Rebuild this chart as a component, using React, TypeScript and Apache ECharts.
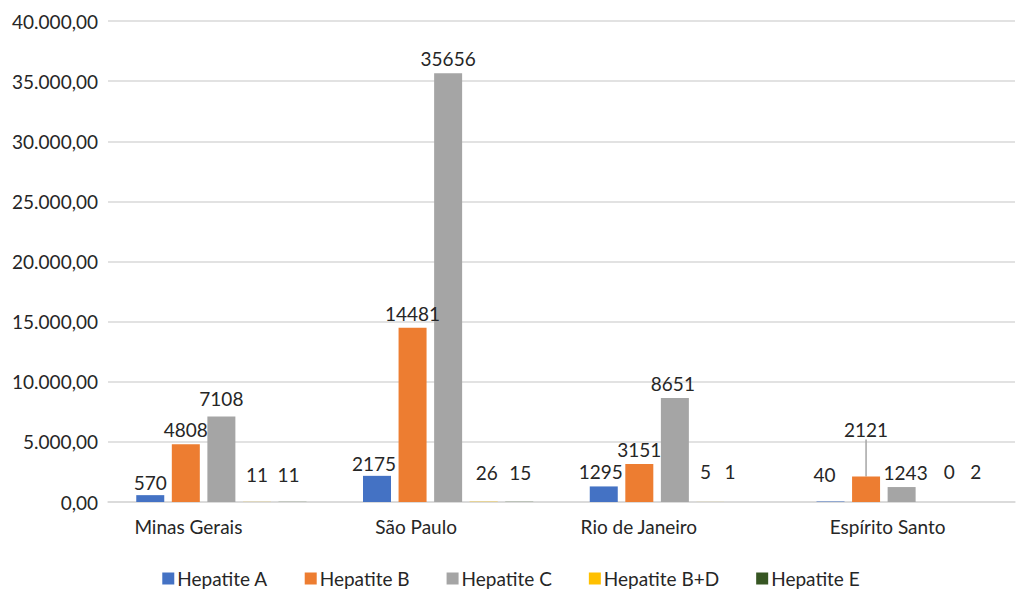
import React, { useEffect, useRef } from "react";
import * as echarts from "echarts";

const categories = ["Minas Gerais", "São Paulo", "Rio de Janeiro", "Espírito Santo"];
const seriesNames = ["Hepatite A", "Hepatite B", "Hepatite C", "Hepatite B+D", "Hepatite E"];
const hepA = [570, 2175, 1295, 40];
const hepB = [4808, 14481, 3151, 2121];
const hepC = [7108, 35656, 8651, 1243];
const hepBD = [11, 26, 5, 0];
const hepE = [11, 15, 1, 2];
const yTicks = { min: 0, max: 40000, interval: 5000 };

const colors = ["#4472C4", "#ED7D31", "#A5A5A5", "#FFC000", "#375623"];

// label nudges (styling only), [dx, dy] per series per category
const nudges: number[][][] = [
  [[0, 2], [-3, 2], [-3, 0], [-6, -13]],
  [[-3, 0], [-10, -6], [-2, 0], [0, 0]],
  [[0, -4], [0, 0], [-2, 0], [4, 0]],
  [[0, -13], [3, -15], [-5, -16], [12, -16]],
  [[-4, -13], [1, -15], [-16, -16], [3, -16]],
];

const axisLabelPad = [66, 64, 72, 28];

const fmtY = (v: number) =>
  String(v).replace(/\B(?=(\d{3})+(?!\d))/g, ".") + ",00";

export default function App() {
  const ref = useRef<HTMLDivElement>(null);
  useEffect(() => {
    if (!ref.current) return;
    const chart = echarts.init(ref.current, null, { renderer: "svg" });
    const all = [hepA, hepB, hepC, hepBD, hepE];
    const font = "Lato, 'Open Sans', sans-serif";
    const fs = 19;
    const rich: Record<string, any> = {};
    axisLabelPad.forEach((p, i) => {
      rich["c" + i] = { padding: [0, p, 0, 0], fontSize: fs, fontFamily: font, color: "#262626" };
    });
    chart.setOption({
      animation: false,
      color: colors,
      textStyle: { fontFamily: font },
      grid: { left: 108, right: 7, top: 21, bottom: 91, containLabel: false },
      legend: {
        data: seriesNames,
        left: "center",
        top: 564,
        icon: "rect",
        itemWidth: 12,
        itemHeight: 12,
        itemGap: 37,
        textStyle: {
          fontSize: fs,
          color: "#262626",
          fontFamily: font,
          padding: [0, 0, 0, -2],
        },
      },
      xAxis: {
        type: "category",
        data: categories,
        axisTick: { show: false },
        axisLine: { lineStyle: { color: "#D9D9D9", width: 1.5 } },
        axisLabel: {
          margin: 15,
          formatter: (v: string, i: number) => `{c${i}|${v}}`,
          rich,
        },
      },
      yAxis: {
        type: "value",
        min: yTicks.min,
        max: yTicks.max,
        interval: yTicks.interval,
        axisLine: { show: false },
        axisTick: { show: false },
        splitLine: { lineStyle: { color: "#D9D9D9", width: 1.5 } },
        axisLabel: {
          formatter: fmtY,
          fontSize: fs,
          color: "#262626",
          fontFamily: font,
          margin: 10,
        },
      },
      series: all.map((vals, s) => ({
        name: seriesNames[s],
        type: "bar",
        barWidth: 28,
        barGap: "27%",
        data: vals.map((v, i) => ({
          value: v,
          label: { offset: nudges[s][i] },
          labelLine: { show: s === 1 && i === 3 },
        })),
        label: {
          show: true,
          position: "top",
          distance: 5,
          fontSize: fs,
          color: "#262626",
          fontFamily: font,
        },
        labelLine: { show: false, lineStyle: { color: "#A5A5A5", width: 1.5 } },
        labelLayout:
          s === 1
            ? (p: any) => (p.dataIndex === 3 ? { dy: -32 } : {})
            : undefined,
      })),
    });
    return () => chart.dispose();
  }, []);
  return (
    <div
      ref={ref}
      style={{ position: "fixed", left: 0, top: 0, width: 1022, height: 593, background: "#fff" }}
    />
  );
}
